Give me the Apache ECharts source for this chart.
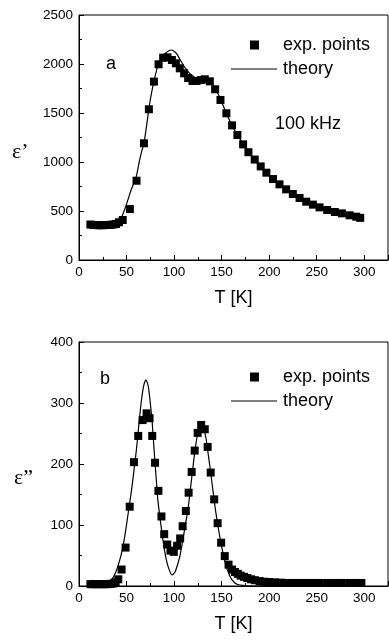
<!DOCTYPE html>
<html>
<head>
<meta charset="utf-8">
<script src="https://cdn.jsdelivr.net/npm/echarts@6/dist/echarts.min.js"></script>
<style>
  html, body { margin: 0; padding: 0; background: #fff; }
  #chart { width: 389px; height: 643px; }
</style>
</head>
<body>
<div id="chart"></div>
<script>
// Panel a: real part of permittivity, 100 kHz
const tA = [12, 15, 18, 21, 24, 27, 30, 33, 36, 39, 42, 46, 53.5, 60.5, 68.3, 73.5, 78.8, 83.7,
  88.5, 93.1, 97.7, 101.9, 106, 110.6, 114.8, 119.4, 123.6, 128.1, 132.3, 137.6, 143.2, 148.8,
  155, 161, 166.6, 172.6, 178.2, 184.8, 191.1, 197.1, 204, 210.9, 217.9, 224.9, 232, 239, 246,
  253, 261, 269, 276.5, 284.6, 291.6, 295.8];
const epsRealExp = [362, 358, 356, 355, 355, 356, 357, 359, 362, 368, 385, 408, 520, 809, 1191,
  1538, 1820, 1997, 2064, 2068, 2041, 2007, 1956, 1905, 1857, 1827, 1827, 1837, 1844, 1823, 1742,
  1633, 1497, 1374, 1276, 1180, 1100, 1025, 955, 891, 826, 772, 721, 673, 633, 595, 565, 537, 510,
  490, 476, 456, 442, 430];

const tAFit = [10, 20, 30, 36, 40, 44, 47, 50, 52.5, 55, 58, 60.5, 63.3, 66, 68.3, 70.5, 73.5, 76,
  79, 82, 85, 88, 91, 94, 97, 100, 103, 106, 109, 112, 115, 118, 121, 124, 127, 130, 133, 136, 139,
  142, 145, 148, 151, 155, 160, 165, 170, 175, 180, 185, 190, 195, 200, 205, 210, 215, 220, 225,
  230, 235, 240, 245, 250, 255, 260, 265, 270, 275, 280, 285, 290, 296];
const epsRealFit = [345, 342, 348, 360, 385, 420, 490, 570, 646, 720, 790, 860, 1000, 1110, 1191,
  1330, 1540, 1690, 1830, 1950, 2030, 2080, 2110, 2133, 2143, 2130, 2100, 2050, 2000, 1955, 1920,
  1890, 1868, 1853, 1846, 1843, 1838, 1828, 1805, 1770, 1720, 1660, 1590, 1497, 1390, 1300, 1225,
  1150, 1085, 1025, 970, 915, 865, 820, 780, 742, 707, 675, 645, 618, 593, 570, 550, 532, 515, 500,
  486, 474, 462, 451, 441, 430];

// Panel b: imaginary part of permittivity
const tB = [12, 15, 18, 21, 24, 27, 30, 33, 36, 38.5, 41.3, 44.8, 49, 53.3, 57.8, 62.3, 66.9,
  71.1, 74.2, 77, 80, 83.5, 86.7, 89.6, 92.8, 96.2, 99.7, 103.2, 106.4, 109, 112.4, 115.3, 118.5,
  121.7, 124.8, 128.5, 132.3, 135.3, 138.5, 142.2, 145.8, 149.5, 153.3, 157.3, 161, 164, 167,
  170, 173.5, 177, 181, 185, 190, 195, 200, 206, 212, 218, 225, 232, 239, 246, 253, 261, 269,
  276.5, 284.6, 291.6, 297];
const epsImagExp = [3, 3, 3, 3, 3, 3, 3, 3.5, 4, 6, 11, 27, 63, 130, 203, 246, 272, 283, 275,
  246, 202, 156, 114, 85, 68, 58, 56, 66, 78, 98, 123, 153, 187, 222, 251, 264, 257, 228, 186,
  142, 103, 71, 49, 35, 27, 23, 20, 17, 15, 13, 11, 9.5, 8, 7, 6.5, 6, 5.5, 5, 5, 5, 5, 5, 5, 5,
  5, 5, 5, 5, 5];

const tBFit = [10, 20, 25, 30, 35, 38.5, 42, 45.5, 48, 50.7, 53, 55.5, 58, 60.5, 63, 65.5, 68,
  70.4, 72.8, 75, 77, 79, 81, 83, 85.5, 87.5, 89.5, 92, 95, 98, 101, 103.5, 106, 108.5, 111, 113.5,
  115.5, 118, 121, 124, 126.5, 128.5, 131, 133.5, 136, 138.5, 141, 143.5, 146, 148.5, 151, 153.5,
  156, 158.5, 161, 164, 167, 172, 180, 200, 250, 300];
const epsImagFit = [0, 0, 0.5, 4, 12, 22, 38, 59, 80, 108, 133, 160, 192, 225, 265, 302, 328,
  338, 328, 300, 268, 223, 180, 140, 108, 84, 63, 42, 26, 18, 23, 34, 48, 69, 92, 115, 136, 170,
  210, 243, 259, 264, 259, 243, 215, 186, 155, 125, 100, 77, 57, 40, 27, 17, 10, 5, 2.5, 1, 0, 0,
  0, 0];

const xMax = 325, xStep = 50;
const yAMax = 2500, yAStep = 500;
const yBMax = 400, yBStep = 100;

const zip = (xs, ys) => xs.map((x, i) => [x, ys[i]]);

const SANS = '"Liberation Sans", Arial, sans-serif';
const SERIF = '"Liberation Serif", "Times New Roman", serif';
const plain = v => String(v);

function xAxisOpt(gridIndex) {
  return {
    gridIndex, type: 'value', min: 0, max: xMax, interval: xStep,
    name: 'T [K]', nameLocation: 'middle', nameGap: 29,
    nameTextStyle: { fontFamily: SANS, fontSize: 18, color: '#000' },
    axisLine: { lineStyle: { color: '#000', width: 1 } },
    axisTick: { inside: true, length: 5, lineStyle: { color: '#000' } },
    minorTick: { show: true, splitNumber: 2, length: 3, lineStyle: { color: '#000' } },
    axisLabel: { fontFamily: SANS, fontSize: 13.5, color: '#000', margin: 5, showMaxLabel: false, formatter: plain },
    splitLine: { show: false }
  };
}
function yAxisOpt(gridIndex, max, step) {
  return {
    gridIndex, type: 'value', min: 0, max, interval: step,
    axisLine: { show: true, lineStyle: { color: '#000', width: 1 } },
    axisTick: { show: true, inside: true, length: 5, lineStyle: { color: '#000' } },
    minorTick: { show: true, splitNumber: 2, length: 3, lineStyle: { color: '#000' } },
    axisLabel: { fontFamily: SANS, fontSize: 13.5, color: '#000', margin: 6, formatter: plain },
    splitLine: { show: false }
  };
}
function legendPair(topPts, topLine) {
  const txt = { fontFamily: SANS, fontSize: 18, color: '#000' };
  return [
    { left: 250, top: topPts, padding: 0, itemWidth: 9, itemHeight: 9,
      data: [{ name: 'exp. points', icon: 'rect' }],
      textStyle: Object.assign({ padding: [0, 0, 0, 19] }, txt), selectedMode: false },
    { left: 231, top: topLine, padding: 0, itemWidth: 46, itemHeight: 1.2,
      data: [{ name: 'theory', icon: 'rect' }],
      textStyle: Object.assign({ padding: [0, 0, 0, 1] }, txt), selectedMode: false }
  ];
}

const chart = echarts.init(document.getElementById('chart'), null, { renderer: 'canvas' });
chart.setOption({
  backgroundColor: '#fff',
  animation: false,
  grid: [
    { left: 79, top: 15, width: 309, height: 245, show: true, borderColor: '#000', borderWidth: 1 },
    { left: 79, top: 342, width: 309, height: 244, show: true, borderColor: '#000', borderWidth: 1 }
  ],
  xAxis: [xAxisOpt(0), xAxisOpt(1)],
  yAxis: [yAxisOpt(0, yAMax, yAStep), yAxisOpt(1, yBMax, yBStep)],
  legend: legendPair(36, 60).concat(legendPair(368, 392)),
  series: [
    { name: 'exp. points', type: 'scatter', xAxisIndex: 0, yAxisIndex: 0,
      symbol: 'rect', symbolSize: 8, itemStyle: { color: '#000', opacity: 1 },
      data: zip(tA, epsRealExp) },
    { name: 'theory', type: 'line', xAxisIndex: 0, yAxisIndex: 0,
      symbol: 'none', smooth: 0.2, lineStyle: { color: '#000', width: 1.2 },
      itemStyle: { color: '#000' }, data: zip(tAFit, epsRealFit) },
    { name: 'exp. points', type: 'scatter', xAxisIndex: 1, yAxisIndex: 1,
      symbol: 'rect', symbolSize: 8, itemStyle: { color: '#000', opacity: 1 },
      data: zip(tB, epsImagExp) },
    { name: 'theory', type: 'line', xAxisIndex: 1, yAxisIndex: 1,
      symbol: 'none', smooth: 0.2, lineStyle: { color: '#000', width: 1.2 },
      itemStyle: { color: '#000' }, data: zip(tBFit, epsImagFit) }
  ],
  graphic: [
    { type: 'text', x: 106, y: 64, style: { text: 'a', fontFamily: SANS, fontSize: 18, fill: '#000', verticalAlign: 'middle' } },
    { type: 'text', x: 275, y: 124, style: { text: '100 kHz', fontFamily: SANS, fontSize: 18, fill: '#000', verticalAlign: 'middle' } },
    { type: 'text', x: 100, y: 379, style: { text: 'b', fontFamily: SANS, fontSize: 18, fill: '#000', verticalAlign: 'middle' } },
    { type: 'text', x: 12, y: 152, style: { text: 'ε’', fontFamily: SERIF, fontSize: 22, fill: '#000', verticalAlign: 'middle' } },
    { type: 'text', x: 14, y: 478, style: { text: 'ε”', fontFamily: SERIF, fontSize: 22, fill: '#000', verticalAlign: 'middle' } }
  ]
});
</script>
</body>
</html>
